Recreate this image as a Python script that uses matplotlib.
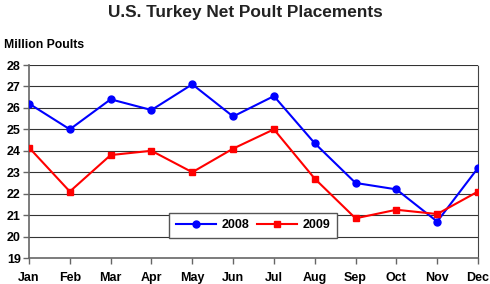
import matplotlib.pyplot as plt

months = ['Jan', 'Feb', 'Mar', 'Apr', 'May', 'Jun',
          'Jul', 'Aug', 'Sep', 'Oct', 'Nov', 'Dec']
poults_2008 = [26.2, 25.0, 26.4, 25.9, 27.1, 25.6, 26.55, 24.35, 22.5, 22.2, 20.7, 23.2]
poults_2009 = [24.15, 22.1, 23.8, 24.0, 23.0, 24.1, 25.0, 22.7, 20.85, 21.25, 21.05, 22.1]
y_ticks = list(range(19, 29))

plt.rcParams['font.family'] = ['Liberation Sans', 'DejaVu Sans']
plt.rcParams['font.weight'] = 'bold'

fig = plt.figure(figsize=(4.9, 2.84), dpi=100)
ax = fig.add_axes([29 / 490, 1 - 258 / 284, 449 / 490, 193 / 284])

x = list(range(len(months)))
for yv in y_ticks[1:]:
    ax.axhline(yv, color='#333333', lw=0.8, zorder=1)

ax.plot(x, poults_2008, color='#0000ff', marker='o', ms=5, lw=1.5,
        label='2008', zorder=3)
ax.plot(x, poults_2009, color='#ff0000', marker='s', ms=4.8, lw=1.5,
        label='2009', zorder=3)

ax.set_xlim(0, 11)
ax.set_ylim(19, 28)
ax.set_yticks(y_ticks)
ax.set_xticks(x)
ax.set_xticklabels(months)
ax.tick_params(axis='both', labelsize=9, length=4, color='#666666', width=1)
ax.tick_params(axis='x', pad=6)
ax.tick_params(axis='y', pad=2)

ax.spines['top'].set_visible(False)
ax.spines['left'].set_color('#666666')
ax.spines['left'].set_linewidth(1.2)
ax.spines['bottom'].set_color('#666666')
ax.spines['bottom'].set_linewidth(1.2)
ax.spines['right'].set_color('#444444')
ax.spines['right'].set_linestyle((0, (1, 1)))
ax.spines['right'].set_linewidth(0.8)

leg = ax.legend(loc='lower left', bbox_to_anchor=(134 / 449, 14 / 193, 180 / 449, 28 / 193),
                mode='expand', ncol=2, frameon=True, fancybox=False,
                fontsize=9, handlelength=3.2, borderpad=0.5, handletextpad=0.5)
leg.get_frame().set_edgecolor('#555555')
leg.get_frame().set_linewidth(1.0)
leg.get_frame().set_alpha(1)

fig.text(0.5, 1 - 12 / 284, 'U.S. Turkey Net Poult Placements', ha='center', va='center',
         fontsize=12.4, fontweight='bold', color='#222222')
fig.text(4 / 490, 1 - 45 / 284, 'Million Poults', ha='left', va='center',
         fontsize=8.8, fontweight='bold')

fig.savefig('out.png', dpi=100)
